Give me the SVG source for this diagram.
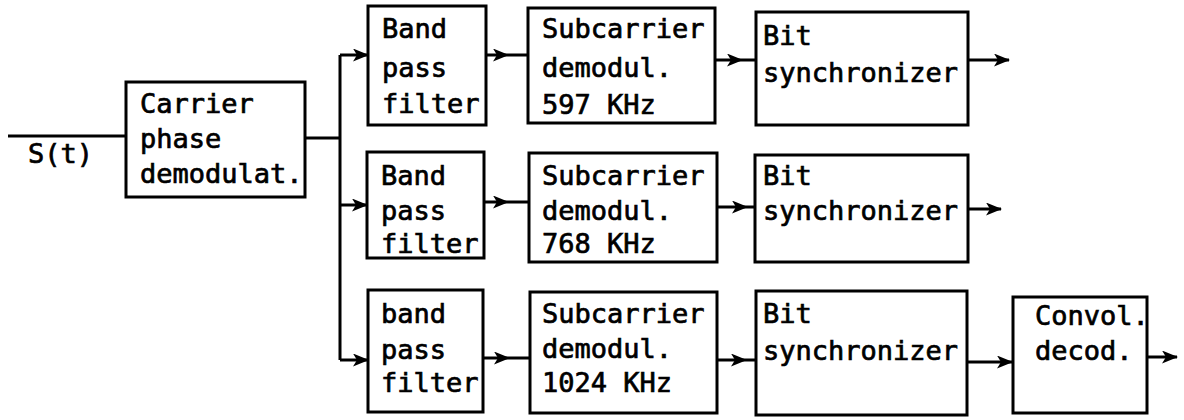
<svg xmlns="http://www.w3.org/2000/svg" width="1184" height="420" viewBox="0 0 1184 420">
<style>
.box{fill:#fff;stroke:#000;stroke-width:3}
.ln{fill:none;stroke:#000;stroke-width:3}
text{font-family:"DejaVu Sans Mono","Liberation Mono",monospace;font-size:27px;fill:#000;stroke:#000;stroke-width:0.7}
</style>
<defs>
<marker id="ah" viewBox="0 0 16 13" refX="15" refY="6.5" markerWidth="16" markerHeight="13" markerUnits="userSpaceOnUse" orient="auto">
<path d="M0,0 L16,6.5 L0,13 L4,6.5 Z" fill="#000"/>
</marker>
</defs>
<rect width="1184" height="420" fill="#fff"/>
<g id="connectors">
<path class="ln" d="M8,136 L126,136"/>
<path class="ln" d="M305,138 L340,138"/>
<path class="ln" d="M340,55 L340,360"/>
<path class="ln" d="M340,55 L368,55" marker-end="url(#ah)"/>
<path class="ln" d="M340,205 L367,205" marker-end="url(#ah)"/>
<path class="ln" d="M340,360 L368,360" marker-end="url(#ah)"/>
<path class="ln" d="M486,55 L508,55 L528,55" marker-mid="url(#ah)"/>
<path class="ln" d="M484,202 L508,202 L529,202" marker-mid="url(#ah)"/>
<path class="ln" d="M483,358 L509,358 L530,358" marker-mid="url(#ah)"/>
<path class="ln" d="M715,60 L742,60 L756,60" marker-mid="url(#ah)"/>
<path class="ln" d="M717,207 L747,207 L755,207" marker-mid="url(#ah)"/>
<path class="ln" d="M717,360 L746,360 L756,360" marker-mid="url(#ah)"/>
<path class="ln" d="M968,60 L1009,60" marker-end="url(#ah)"/>
<path class="ln" d="M968,209 L1001,209" marker-end="url(#ah)"/>
<path class="ln" d="M967,362 L1012,362" marker-end="url(#ah)"/>
<path class="ln" d="M1147,357 L1177,357" marker-end="url(#ah)"/>
</g>
<g id="input-label"><text x="28" y="163">S(t)</text></g>
<g id="carrier">
<rect class="box" x="126" y="82" width="179" height="115"/>
<text x="140" y="113">Carrier</text>
<text x="140" y="148">phase</text>
<text x="140" y="183">demodulat.</text>
</g>
<g id="bpf1">
<rect class="box" x="368" y="6" width="118" height="119"/>
<text x="382" y="38">Band</text>
<text x="382" y="77">pass</text>
<text x="382" y="113">filter</text>
</g>
<g id="sub1">
<rect class="box" x="528" y="8" width="187" height="115"/>
<text x="542" y="38">Subcarrier</text>
<text x="542" y="77">demodul.</text>
<text x="542" y="114">597 KHz</text>
</g>
<g id="bit1">
<rect class="box" x="756" y="12" width="212" height="113"/>
<text x="763" y="45">Bit</text>
<text x="763" y="82">synchronizer</text>
</g>
<g id="bpf2">
<rect class="box" x="367" y="152" width="117" height="106"/>
<text x="381" y="185">Band</text>
<text x="381" y="220">pass</text>
<text x="381" y="253">filter</text>
</g>
<g id="sub2">
<rect class="box" x="529" y="153" width="188" height="109"/>
<text x="542" y="185">Subcarrier</text>
<text x="542" y="220">demodul.</text>
<text x="542" y="253">768 KHz</text>
</g>
<g id="bit2">
<rect class="box" x="755" y="155" width="213" height="107"/>
<text x="763" y="185">Bit</text>
<text x="763" y="220">synchronizer</text>
</g>
<g id="bpf3">
<rect class="box" x="368" y="290" width="115" height="122"/>
<text x="381" y="323">band</text>
<text x="381" y="359">pass</text>
<text x="381" y="392">filter</text>
</g>
<g id="sub3">
<rect class="box" x="530" y="292" width="187" height="121"/>
<text x="542" y="323">Subcarrier</text>
<text x="542" y="358">demodul.</text>
<text x="542" y="392">1024 KHz</text>
</g>
<g id="bit3">
<rect class="box" x="756" y="291" width="211" height="124"/>
<text x="763" y="323">Bit</text>
<text x="763" y="360">synchronizer</text>
</g>
<g id="conv">
<rect class="box" x="1013" y="297" width="134" height="116"/>
<text x="1035" y="325">Convol.</text>
<text x="1035" y="360">decod.</text>
</g>
</svg>
